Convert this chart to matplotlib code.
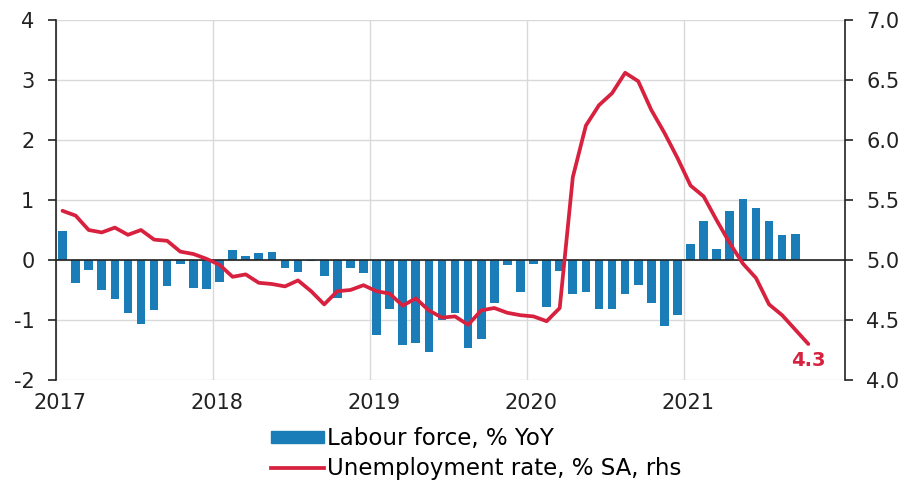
import matplotlib.pyplot as plt
import numpy as np
import matplotlib.transforms as mtransforms
from matplotlib.lines import Line2D
from matplotlib.patches import Patch

plt.rcParams['font.family'] = ['DejaVu Sans']
plt.rcParams['axes.unicode_minus'] = False

# monthly series, Jan 2017 onwards
labour_force = [
    0.48, -0.39, -0.16, -0.50, -0.65, -0.89, -1.07, -0.83, -0.43, -0.06, -0.46, -0.48,
    -0.37, 0.16, 0.07, 0.11, 0.13, -0.13, -0.20, -0.02, -0.26, -0.64, -0.14, -0.22,
    -1.25, -0.82, -1.42, -1.38, -1.54, -1.00, -0.89, -1.46, -1.32, -0.72, -0.09, -0.54,
    -0.07, -0.79, -0.18, -0.57, -0.54, -0.82, -0.82, -0.57, -0.42, -0.72, -1.10, -0.92,
    0.27, 0.65, 0.19, 0.81, 1.01, 0.86, 0.65, 0.42, 0.43,
]
unemployment = [
    5.41, 5.37, 5.25, 5.23, 5.27, 5.21, 5.25, 5.17, 5.16, 5.07, 5.05, 5.01,
    4.96, 4.86, 4.88, 4.81, 4.80, 4.78, 4.83, 4.74, 4.63, 4.74, 4.75, 4.79,
    4.74, 4.72, 4.62, 4.68, 4.58, 4.52, 4.53, 4.46, 4.58, 4.60, 4.56, 4.54,
    4.53, 4.49, 4.60, 5.69, 6.12, 6.29, 6.39, 6.56, 6.49, 6.25, 6.06, 5.85,
    5.62, 5.53, 5.33, 5.14, 4.97, 4.85, 4.63, 4.54, 4.42, 4.30,
]
years = [2017, 2018, 2019, 2020, 2021]

x_bar = 2017 + (np.arange(len(labour_force)) + 0.5) / 12
x_line = 2017 + (np.arange(len(unemployment)) + 0.5) / 12

blue = '#1b7db8'
red = '#d7213f'
dark = '#222222'

fig = plt.figure(figsize=(9.07, 4.82), dpi=100)
ax = fig.add_axes([0.0617, 0.2116, 0.8699, 0.7469])
ax2 = ax.twinx()

ax.set_zorder(1)
ax2.set_zorder(2)
ax2.patch.set_visible(False)

ax.bar(x_bar, labour_force, width=0.66 / 12, color=blue, zorder=3)
ax.axhline(0, color=dark, lw=1.2, zorder=4)
ax2.plot(x_line, unemployment, color=red, lw=2.7, solid_joinstyle='round',
         solid_capstyle='round')
ax2.annotate(f'{unemployment[-1]:.1f}', (x_line[-1], unemployment[-1]),
             xytext=(0, -12), textcoords='offset points', ha='center', va='center',
             color=red, fontsize=14, fontweight='bold')

ax.set_xlim(2017, 2022.025)
ax.set_ylim(-2, 4)
ax2.set_ylim(4, 7)
ax.set_yticks(range(-2, 5))
rticks = np.arange(4, 7.01, 0.5)
ax2.set_yticks(rticks)
ax2.set_yticklabels([f'{v:.1f}' for v in rticks])
ax.set_xticks(years)
ax.set_xticklabels([str(y) for y in years])

ax.grid(True, color='#d9d9d9', lw=1, zorder=0)
for a in (ax, ax2):
    a.spines['top'].set_visible(False)
    a.spines['bottom'].set_visible(False)
ax.spines['left'].set_color(dark)
ax.spines['left'].set_linewidth(1.2)
ax2.spines['right'].set_color(dark)
ax2.spines['right'].set_linewidth(1.2)
ax2.spines['left'].set_visible(False)
ax.spines['right'].set_visible(False)

ax.tick_params(axis='y', direction='out', length=5.5, width=1.2, pad=10,
               labelsize=15, colors=dark)
ax2.tick_params(axis='y', direction='out', length=5.5, width=1.2, pad=10,
                labelsize=15, colors=dark)
ax.tick_params(axis='x', length=0, labelsize=15, pad=9, colors=dark)

# year labels sit a little right of their gridlines
shift = mtransforms.ScaledTranslation(4 / 100, 0, fig.dpi_scale_trans)
for lbl in ax.get_xticklabels():
    lbl.set_transform(lbl.get_transform() + shift)

handles = [Patch(color=blue), Line2D([0], [0], color=red, lw=2.7)]
labels = ['Labour force, % YoY', 'Unemployment rate, % SA, rhs']
fig.legend(handles, labels, loc='upper left', bbox_to_anchor=(0.299, 0.114),
           frameon=False, fontsize=16.5, handlelength=2.3, handletextpad=0.15,
           handleheight=0.45, labelspacing=0.3, borderaxespad=0, borderpad=0)

fig.savefig('out.png', dpi=100)
